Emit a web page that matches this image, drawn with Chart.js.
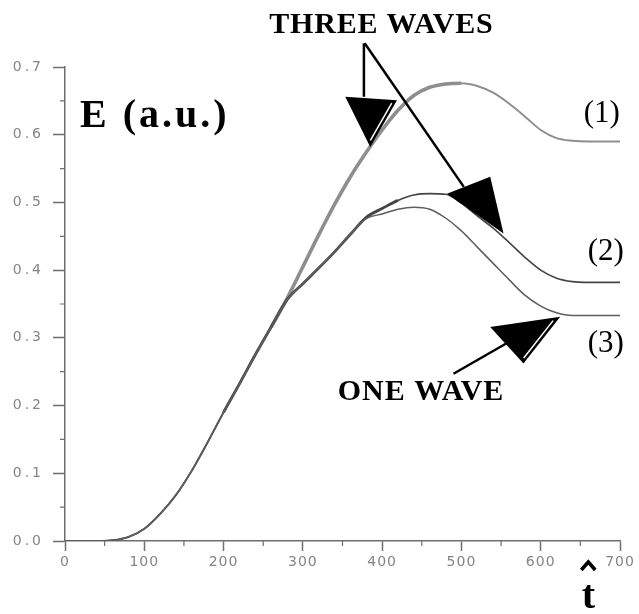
<!DOCTYPE html>
<html>
<head>
<meta charset="utf-8">
<script src="https://cdn.jsdelivr.net/npm/chart.js@4"></script>
<style>
  html, body { margin: 0; padding: 0; background: #fff; }
  canvas { display: block; }
</style>
</head>
<body>
<canvas id="chart" width="639" height="614"></canvas>
<script>
// time axis (t hat), sampled every 20
const times = [0,20,40,60,80,100,120,140,160,180,200,220,240,260,280,300,320,340,
               360,380,400,420,440,460,480,500,520,540,560,580,600,620,640,660,680,700]

// (1) three waves, upper curve
const curve1 = [0,0,0,0.001,0.006,0.018,0.040,0.068,0.104,0.146,0.190,0.232,0.275,0.316,0.358,0.405,0.452,0.497,
                0.538,0.574,0.607,0.636,0.658,0.670,0.675,0.676,0.672,0.662,0.646,0.627,0.607,0.595,0.591,0.590,0.590,0.590]
// (2) three waves, lower curve
const curve2 = [0,0,0,0.001,0.006,0.018,0.040,0.068,0.104,0.146,0.190,0.232,0.275,0.316,0.356,0.380,0.403,0.427,
                0.453,0.478,0.491,0.503,0.511,0.513,0.512,0.499,0.480,0.462,0.441,0.419,0.400,0.388,0.383,0.382,0.382,0.382]
// (3) one wave
const curve3 = [0,0,0,0.001,0.006,0.018,0.040,0.068,0.104,0.146,0.190,0.232,0.275,0.316,0.356,0.380,0.403,0.427,
                0.453,0.476,0.483,0.490,0.493,0.490,0.477,0.458,0.434,0.410,0.386,0.363,0.347,0.337,0.333,0.333,0.333,0.333]

const yTicks = [0, 0.1, 0.2, 0.3, 0.4, 0.5, 0.6, 0.7]
const xTicks = [0, 100, 200, 300, 400, 500, 600, 700]

const toPoints = ys => times.map((t, i) => ({x: t, y: ys[i]}))

// text and arrows, placed in data units
const labels = [
  {text: 'E (a.u.)',    t: 19,  v: 0.612, font: 'bold 40px "Liberation Serif"', align: 'left',   spacing: '3px'},
  {text: 'THREE WAVES', t: 399, v: 0.750, font: 'bold 30px "Liberation Serif"', align: 'center', spacing: '0.8px'},
  {text: 'ONE WAVE',    t: 449, v: 0.208, font: 'bold 30px "Liberation Serif"', align: 'center', spacing: '1px'},
  {text: '(1)',         t: 677, v: 0.619, font: '31px "Liberation Serif"',      align: 'center', spacing: '0px'},
  {text: '(2)',         t: 682, v: 0.415, font: '31px "Liberation Serif"',      align: 'center', spacing: '0px'},
  {text: '(3)',         t: 682, v: 0.279, font: '31px "Liberation Serif"',      align: 'center', spacing: '0px'},
  {text: 't',           t: 660, v: -0.099, font: 'bold 40px "Liberation Serif"', align: 'center', spacing: '0px'}
]
const arrowLines = [
  [[377, 0.735], [377, 0.656]],
  [[378, 0.735], [503, 0.523]],
  [[490, 0.247], [557, 0.292]]
]
const arrowHeads = [
  {pts: [[353.5, 0.656], [418.7, 0.651], [385, 0.582]], stripe: [1, 2]},
  {pts: [[481.7, 0.513], [536.3, 0.538], [553.1, 0.454]], stripe: null},
  {pts: [[536.3, 0.316], [624.6, 0.331], [578.3, 0.262]], stripe: [1, 2]}
]

const spaced = (scale, spacing) => {
    const orig = scale.drawLabels
    scale.drawLabels = function(area){
        const ctx = this.ctx
        ctx.save()
        ctx.letterSpacing = spacing
        orig.call(this, area)
        ctx.restore()
    }
}

const annotate = {
    id: 'annotate',
    beforeDraw(chart){
        if (!chart._spaced){
            spaced(chart.scales.y, '3px')
            spaced(chart.scales.x, '1px')
            chart._spaced = true
        }
    },
    afterDraw(chart){
        const ctx = chart.ctx
        const xs = chart.scales.x, ys = chart.scales.y
        const px = t => xs.getPixelForValue(t)
        const py = v => ys.getPixelForValue(v)

        // minor ticks
        ctx.save()
        ctx.strokeStyle = '#6f6f6f'
        ctx.lineWidth = 1.2
        ctx.beginPath()
        for (let v = 0.05; v < 0.7; v += 0.1){
            ctx.moveTo(xs.left - 5, py(v)); ctx.lineTo(xs.left, py(v))
        }
        for (let t = 50; t < 700; t += 100){
            ctx.moveTo(px(t), ys.bottom); ctx.lineTo(px(t), ys.bottom + 5)
        }
        ctx.stroke()

        // arrows
        ctx.strokeStyle = '#000'
        ctx.fillStyle = '#000'
        ctx.lineWidth = 2.5
        arrowLines.forEach(l => {
            ctx.beginPath()
            ctx.moveTo(px(l[0][0]), py(l[0][1]))
            ctx.lineTo(px(l[1][0]), py(l[1][1]))
            ctx.stroke()
        })
        arrowHeads.forEach(h => {
            const p = h.pts.map(q => [px(q[0]), py(q[1])])
            ctx.beginPath()
            ctx.moveTo(p[0][0], p[0][1]); ctx.lineTo(p[1][0], p[1][1]); ctx.lineTo(p[2][0], p[2][1])
            ctx.closePath()
            ctx.fill()
            if (h.stripe){
                const cx = (p[0][0] + p[1][0] + p[2][0]) / 3, cy = (p[0][1] + p[1][1] + p[2][1]) / 3
                const a = p[h.stripe[0]], b = p[h.stripe[1]]
                const k = 0.2
                ctx.save()
                ctx.strokeStyle = '#fff'
                ctx.lineWidth = 1.5
                ctx.beginPath()
                ctx.moveTo(a[0] + (cx - a[0]) * k, a[1] + (cy - a[1]) * k)
                ctx.lineTo(b[0] + (cx - b[0]) * k, b[1] + (cy - b[1]) * k)
                ctx.stroke()
                ctx.restore()
            }
        })

        // hat over t
        const hx = px(660), hy = py(-0.034)
        ctx.lineWidth = 3.5
        ctx.beginPath()
        ctx.moveTo(hx - 7, hy + 6); ctx.lineTo(hx, hy - 2); ctx.lineTo(hx + 7, hy + 6)
        ctx.stroke()

        // texts
        ctx.textBaseline = 'alphabetic'
        labels.forEach(l => {
            ctx.font = l.font
            ctx.letterSpacing = l.spacing
            ctx.textAlign = l.align
            ctx.fillText(l.text, px(l.t), py(l.v))
        })
        ctx.restore()
    }
}

const segWidth = (from, to, thick, thin) => ctx => {
    const t = ctx.p0.parsed.x
    return (t >= from && t < to) ? thick : thin
}

new Chart(document.getElementById('chart'), {
    type: 'line',
    data: {
        datasets: [
            {
                label: '(1)',
                data: toPoints(curve1),
                borderColor: '#8e8e8e',
                borderWidth: 2,
                segment: {borderWidth: segWidth(260, 500, 3.6, 2)},
                order: 3
            },
            {
                label: '(2)',
                data: toPoints(curve2),
                borderColor: '#444',
                borderWidth: 1.6,
                segment: {borderWidth: segWidth(200, 420, 2.8, 1.6)},
                order: 2
            },
            {
                label: '(3)',
                data: toPoints(curve3),
                borderColor: '#5e5e5e',
                borderWidth: 1.5,
                order: 1
            }
        ]
    },
    options: {
        responsive: false,
        animation: false,
        events: [],
        elements: {
            point: {radius: 0},
            line: {cubicInterpolationMode: 'monotone', fill: false}
        },
        layout: {padding: {left: 0, right: 19, top: 67, bottom: 33}},
        plugins: {legend: {display: false}, tooltip: {enabled: false}},
        scales: {
            x: {
                type: 'linear',
                min: 0, max: 700,
                afterBuildTicks: s => { s.ticks = xTicks.map(v => ({value: v})) },
                afterFit: s => { s.height = 40 },
                grid: {drawOnChartArea: false, drawTicks: true, tickLength: 10, tickColor: '#6f6f6f', tickWidth: 1.5},
                border: {display: true, color: '#6f6f6f', width: 1.5},
                ticks: {
                    color: '#858585',
                    padding: 3,
                    maxRotation: 0,
                    font: {family: '"DejaVu Sans"', size: 14},
                    callback: v => String(v)
                }
            },
            y: {
                min: 0, max: 0.7,
                afterBuildTicks: s => { s.ticks = yTicks.map(v => ({value: v})) },
                afterFit: s => { s.width = 65 },
                grid: {drawOnChartArea: false, drawTicks: true, tickLength: 12, tickColor: '#6f6f6f', tickWidth: 1.5},
                border: {display: true, color: '#6f6f6f', width: 1.5},
                ticks: {
                    color: '#858585',
                    padding: 9,
                    font: {family: '"DejaVu Sans"', size: 14},
                    callback: v => v.toFixed(1)
                }
            }
        }
    },
    plugins: [annotate]
})
</script>
</body>
</html>
